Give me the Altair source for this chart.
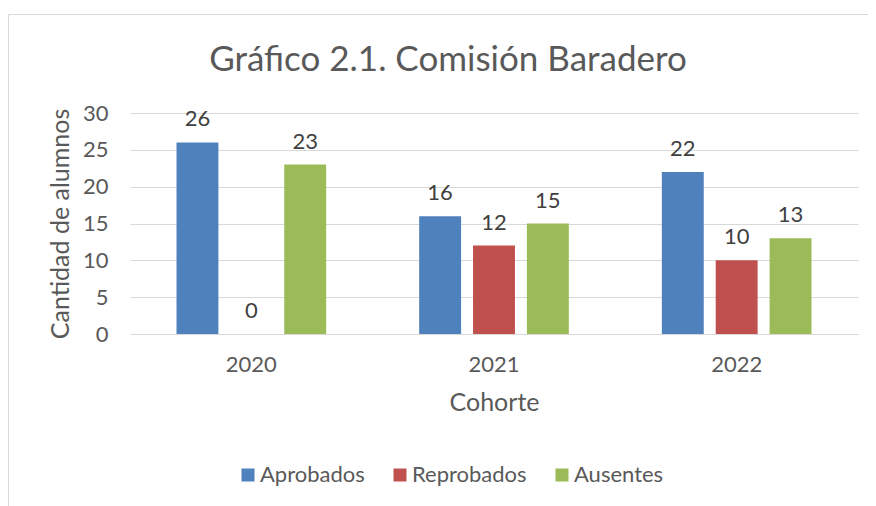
import altair as alt
import pandas as pd

title_text = "Gráfico 2.1. Comisión Baradero"
cohortes = ["2020", "2021", "2022"]
series = ["Aprobados", "Reprobados", "Ausentes"]
aprobados = [26, 16, 22]
reprobados = [0, 12, 10]
ausentes = [23, 15, 13]
colors = ["#4F81BD", "#C0504D", "#9BBB59"]
y_ticks = [0, 5, 10, 15, 20, 25, 30]

rows = []
for i, c in enumerate(cohortes):
    for s, vals in zip(series, [aprobados, reprobados, ausentes]):
        rows.append({"Cohorte": c, "Serie": s, "Valor": vals[i]})
df = pd.DataFrame(rows)

FONT = "Lato"
GRAY = "#595959"
GRID = "#D9D9D9"

x_enc = alt.X(
    "Cohorte:N",
    sort=cohortes,
    scale=alt.Scale(paddingInner=0.334, paddingOuter=0.167),
    axis=alt.Axis(
        title="Cohorte",
        labelAngle=0,
        ticks=False,
        domainColor=GRID,
        domainWidth=1,
        labelPadding=20,
        titlePadding=15,
        grid=False,
    ),
)
xoff_enc = alt.XOffset("Serie:N", sort=series,
                       scale=alt.Scale(paddingInner=0.222, paddingOuter=0.111))
y_enc = alt.Y(
    "Valor:Q",
    scale=alt.Scale(domain=[0, 30], nice=False),
    axis=alt.Axis(
        title="Cantidad de alumnos",
        values=y_ticks,
        ticks=False,
        domain=False,
        gridColor=GRID,
        labelPadding=22,
        titlePadding=9,
    ),
)

bars = alt.Chart(df).mark_bar().encode(
    x=x_enc,
    xOffset=xoff_enc,
    y=y_enc,
    color=alt.Color(
        "Serie:N",
        sort=series,
        scale=alt.Scale(domain=series, range=colors),
        legend=alt.Legend(
            title=None,
            orient="none",
            direction="horizontal",
            legendX=107,
            legendY=351,
            symbolType="square",
            symbolSize=169,
            symbolStrokeWidth=0,
            labelFontSize=22,
            labelFont=FONT,
            labelColor=GRAY,
            labelOffset=1,
            columnPadding=24,
        ),
    ),
)

labels = alt.Chart(df).mark_text(
    baseline="alphabetic", dy=-16, fontSize=22, font=FONT, color="#404040"
).encode(x=x_enc, xOffset=xoff_enc, y=y_enc, text="Valor:Q")

frame_df = pd.DataFrame({"a": [0]})
frame_v = alt.Chart(frame_df).mark_rule(color=GRID, strokeWidth=1).encode(
    x=alt.value(-121.5), y=alt.value(-98.5), y2=alt.value(420)
)
frame_h = alt.Chart(frame_df).mark_rule(color=GRID, strokeWidth=1).encode(
    x=alt.value(-121.5), x2=alt.value(760), y=alt.value(-98.5)
)
title_mark = alt.Chart(pd.DataFrame({"t": [title_text]})).mark_text(
    fontSize=35, font=FONT, color=GRAY, align="center", baseline="alphabetic"
).encode(x=alt.value(318), y=alt.value(-42), text="t:N")

chart = alt.layer(frame_v, frame_h, title_mark, bars, labels).properties(
    width=728,
    height=221,
    autosize=alt.AutoSizeParams(type="none"),
    padding={"left": 122, "top": 105, "right": 10, "bottom": 175},
).configure_axis(
    labelFont=FONT,
    labelFontSize=22,
    labelColor=GRAY,
    titleFont=FONT,
    titleFontSize=25,
    titleColor=GRAY,
    titleFontWeight="normal",
).configure_view(stroke=None)

chart.save("out.html", embed_options={"renderer": "svg", "actions": False})
